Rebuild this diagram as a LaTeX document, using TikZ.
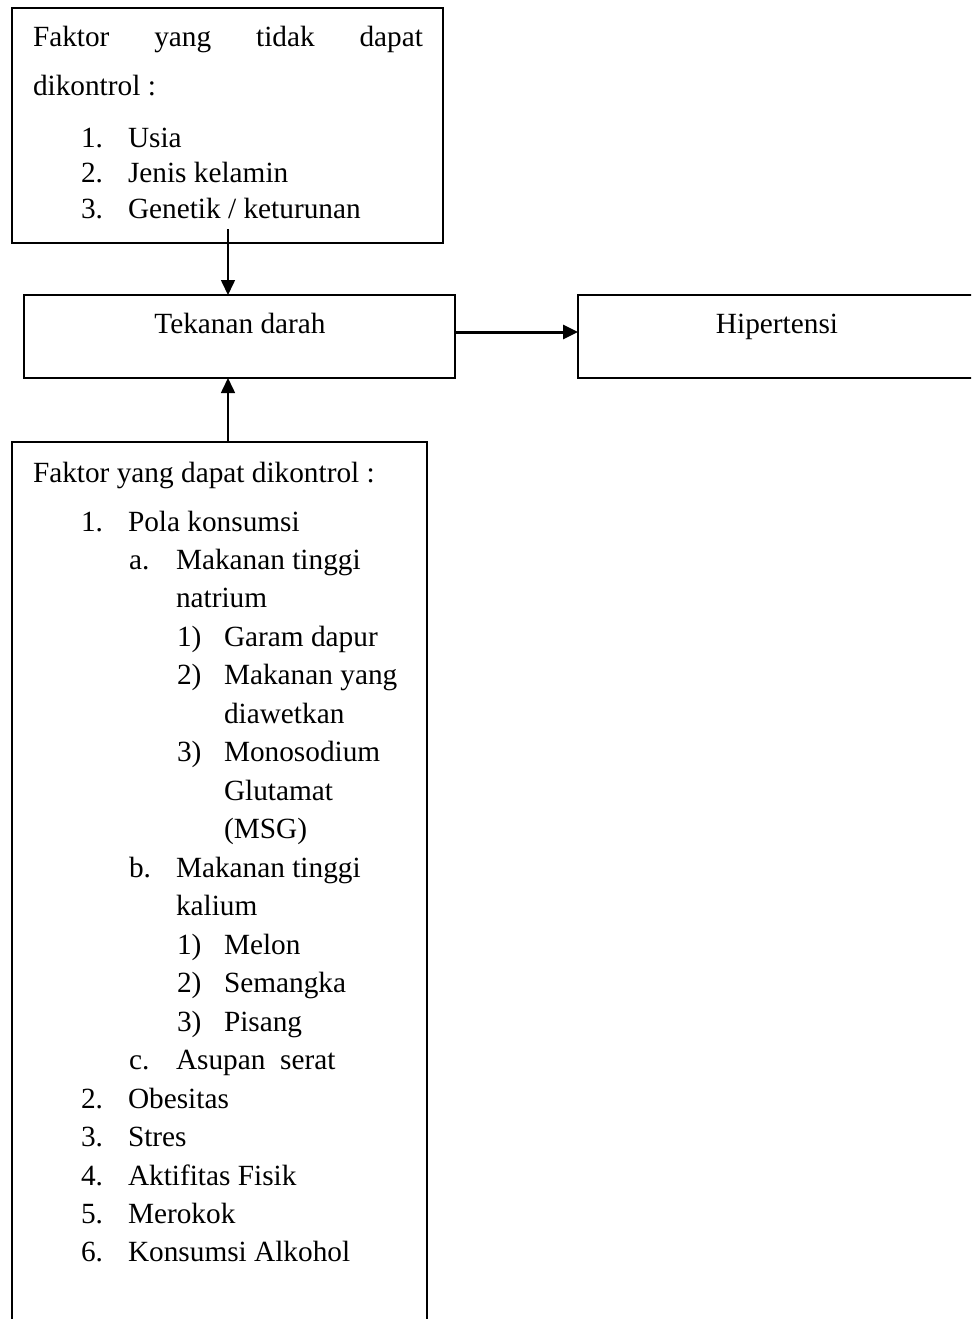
\documentclass[tikz,border=0pt]{standalone}
\usepackage{fontspec}
\setmainfont{Liberation Serif}
\usetikzlibrary{positioning}
\usetikzlibrary{arrows.meta,calc}
\tikzset{
    %Define standard arrow tip
    >={Triangle[length=7.5pt,width=7pt]},
    % Define arrow style
    pil/.style={
           ->,
           color=black,
           line width=0.8pt,}
}
\newcommand{\ukuranhuruf}{\fontsize{14.65}{17}\selectfont}

\begin{document}
\begin{tikzpicture}[x=0.5pt, y=-0.5pt, outer sep=0pt]
\tikzstyle{kotak}=[draw=black, fill=white, rectangle, line width=1pt, inner sep=0pt,
    anchor=north west]
%
\tikzstyle{teks}=[anchor=base west, inner sep=0pt, font=\ukuranhuruf]

\clip (0,0) rectangle (971,1319);

\node[kotak, minimum width=215.5pt, minimum height=117.5pt] (tidak) at (12,8) {};
\node[kotak, minimum width=215.5pt, minimum height=41.5pt] (tekanan) at (24,295) {};
\node[kotak, minimum width=200pt, minimum height=41.5pt] (hiper) at (578,295) {};
\node[kotak, minimum width=207.5pt, minimum height=445pt] (dapat) at (12,442) {};

% faktor yang tidak dapat dikontrol
\node[teks] (tidak1) at (33,46) {\makebox[195pt][s]{Faktor yang tidak dapat}};
\node[teks] (tidak2) at (33,95) {dikontrol :};
\foreach \nomor/\isi/\yy [count=\i] in {1./Usia/147, 2./Jenis kelamin/182,
    3./{Genetik / keturunan}/218}{
  \node[teks] (nt\i) at (81,\yy) {\nomor};
  \node[teks] (it\i) at (128,\yy) {\isi};
}

\node[teks] (tekanantxt) at (240,333) [anchor=base] {Tekanan darah};
\node[teks] (hipertxt) at (777,333) [anchor=base] {Hipertensi};

% faktor yang dapat dikontrol
\node[teks] (dapat0) at (33,482) {Faktor yang dapat dikontrol :};
\foreach \lv/\nomor/\isi [count=\i from 0] in {0/1./Pola konsumsi,
    1/a./Makanan tinggi, 1//natrium, 2/1)/Garam dapur, 2/2)/Makanan yang,
    2//diawetkan, 2/3)/Monosodium, 2//Glutamat, 2//{(MSG)},
    1/b./Makanan tinggi, 1//kalium, 2/1)/Melon, 2/2)/Semangka, 2/3)/Pisang,
    1/c./{Asupan\ \ serat}, 0/2./Obesitas, 0/3./Stres, 0/4./Aktifitas Fisik,
    0/5./Merokok, 0/6./Konsumsi Alkohol}{
  \node[teks] (nd\i) at (81+48*\lv,531+38.47*\i) {\nomor};
  \node[teks] (id\i) at (128+48*\lv,531+38.47*\i) {\isi};
}

\coordinate (panah) at (228,229);
\draw[pil] (panah) -- (panah |- tekanan.north);
\draw[pil] (panah |- dapat.north) -- (panah |- tekanan.south);
\draw[pil, line width=1.5pt] ([yshift=2.25pt]tekanan.east) -- ([yshift=2.25pt]hiper.west);

\end{tikzpicture}
\end{document}
